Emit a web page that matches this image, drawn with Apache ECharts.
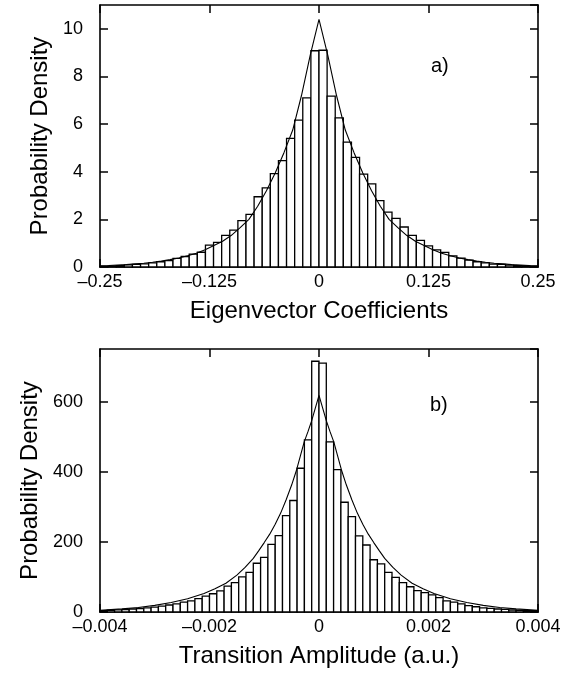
<!DOCTYPE html>
<html><head><meta charset="utf-8">
<script src="https://cdn.jsdelivr.net/npm/echarts@6/dist/echarts.min.js"></script>
<style>html,body{margin:0;padding:0;background:#fff}#c{width:574px;height:673px}</style>
</head><body><div id="c"></div>
<script>
// ---- Panel a) data ----
const topRange = [-0.25, 0.25];
const topXTicks = [-0.25, -0.125, 0, 0.125, 0.25];
const topBars = [0.03, 0.04, 0.06, 0.09, 0.11, 0.13, 0.17, 0.22, 0.27, 0.36, 0.44, 0.54, 0.62, 0.92, 1.03, 1.33, 1.55, 1.95, 2.21, 2.95, 3.32, 3.92, 4.47, 5.4, 6.17, 7.1, 9.08,
                 9.1, 7.17, 6.26, 5.24, 4.6, 3.9, 3.49, 2.79, 2.3, 2.04, 1.68, 1.33, 1.12, 0.89, 0.72, 0.61, 0.47, 0.37, 0.29, 0.22, 0.17, 0.12, 0.11, 0.08, 0.06, 0.05, 0.03];
const topCurveX = [-0.25, -0.24, -0.23, -0.22, -0.21, -0.2, -0.19, -0.18, -0.17, -0.16, -0.15, -0.14, -0.13, -0.12, -0.11, -0.1, -0.09, -0.08, -0.07, -0.06, -0.05, -0.04, -0.03, -0.02, -0.01, 0,
                   0.01, 0.02, 0.03, 0.04, 0.05, 0.06, 0.07, 0.08, 0.09, 0.1, 0.11, 0.12, 0.13, 0.14, 0.15, 0.16, 0.17, 0.18, 0.19, 0.2, 0.21, 0.22, 0.23, 0.24, 0.25];
const topCurveY = [0.05, 0.06, 0.08, 0.1, 0.13, 0.16, 0.2, 0.25, 0.31, 0.38, 0.47, 0.58, 0.72, 0.9, 1.08, 1.33, 1.65, 2.0, 2.55, 3.2, 3.95, 4.8, 5.75, 7.2, 8.9, 10.4,
                   8.9, 7.2, 5.75, 4.8, 3.95, 3.2, 2.55, 2.0, 1.65, 1.33, 1.08, 0.9, 0.72, 0.58, 0.47, 0.38, 0.31, 0.25, 0.2, 0.16, 0.13, 0.1, 0.08, 0.06, 0.05];

// ---- Panel b) data ----
const botRange = [-0.004, 0.004];
const botXTicks = [-0.004, -0.002, 0, 0.002, 0.004];
const botBars = [4, 5, 6, 7, 8.5, 10, 12, 14, 17, 20, 23, 28, 32, 38, 45, 52, 60, 74, 84, 100, 113, 139, 156, 193, 218, 275, 318, 410, 491, 715,
                 710, 485, 406, 313, 272, 217, 191, 149, 137, 113, 99, 84, 72, 61, 55, 49, 41, 32, 28, 23, 18, 15, 12, 10.5, 8.6, 7.6, 5.7, 5, 4, 4];
const botCurveX = [-0.004, -0.0036, -0.0033, -0.003, -0.0027, -0.0024, -0.0021, -0.0019, -0.0017, -0.0015, -0.00135, -0.0012, -0.0011, -0.001, -0.0009, -0.0008, -0.0007, -0.0006, -0.0005, -0.00041, -0.00034, -0.00027, -0.0002, -0.000135, -0.00007, 0,
                   0.00007, 0.000135, 0.0002, 0.00027, 0.00034, 0.00041, 0.0005, 0.0006, 0.0007, 0.0008, 0.0009, 0.001, 0.0011, 0.0012, 0.00135, 0.0015, 0.0017, 0.0019, 0.0021, 0.0024, 0.0027, 0.003, 0.0033, 0.0036, 0.004];
const botCurveY = [5, 9, 13, 19, 27, 38, 53, 66, 82, 105, 127, 153, 175, 198, 222, 250, 282, 320, 362, 405, 445, 485, 515, 545, 580, 618,
                   580, 545, 515, 485, 445, 405, 362, 320, 282, 250, 222, 198, 175, 153, 127, 105, 82, 66, 53, 38, 27, 19, 13, 9, 5];

const FONT = 'Liberation Sans';
const chart = echarts.init(document.getElementById('c'), null, {renderer: 'canvas'});

function fmt(v) {
  const r = parseFloat(v.toFixed(6));
  if (r === 0) return '0';
  return (r < 0 ? '\u2013' : '') + Math.abs(r).toString();
}
function barSeries(xi, yi, range, values) {
  const n = values.length, w = (range[1] - range[0]) / n;
  const data = values.map((v, i) => [range[0] + i * w, range[0] + (i + 1) * w, v]);
  return {
    type: 'custom', xAxisIndex: xi, yAxisIndex: yi, data: data, encode: {x: [0, 1], y: 2}, z: 2,
    renderItem: function (params, api) {
      const p0 = api.coord([api.value(0), api.value(2)]);
      const p1 = api.coord([api.value(1), 0]);
      return {type: 'rect', shape: {x: p0[0], y: p0[1], width: p1[0] - p0[0], height: p1[1] - p0[1]},
              style: {fill: '#fff', stroke: '#000', lineWidth: 1.3}};
    }
  };
}
function curveSeries(xi, yi, xs, ys) {
  return {type: 'line', xAxisIndex: xi, yAxisIndex: yi, data: xs.map((x, i) => [x, ys[i]]),
          showSymbol: false, symbol: 'none', smooth: false, z: 3, lineStyle: {color: '#000', width: 1.1}, silent: true};
}
const lineS = {show: true, onZero: false, lineStyle: {color: '#000', width: 1.6}};
const tickS = {show: true, inside: true, length: 8, lineStyle: {color: '#000', width: 1.5}};
function xAxes(gi, range, ticks, name) {
  const iv = ticks[1] - ticks[0];
  return [
    {type: 'value', gridIndex: gi, min: range[0], max: range[1], interval: iv, position: 'bottom',
     axisLine: lineS, axisTick: tickS, splitLine: {show: false},
     axisLabel: {formatter: fmt, color: '#000', fontFamily: FONT, fontSize: 18, margin: 6},
     name: name, nameLocation: 'middle', nameGap: 32,
     nameTextStyle: {color: '#000', fontFamily: FONT, fontSize: 24, verticalAlign: 'top'}},
    {type: 'value', gridIndex: gi, min: range[0], max: range[1], interval: iv, position: 'top',
     axisLine: lineS, axisTick: tickS, splitLine: {show: false}, axisLabel: {show: false}}
  ];
}
function yAxes(gi, max, iv) {
  return [
    {type: 'value', gridIndex: gi, min: 0, max: max, interval: iv, position: 'left',
     axisLine: lineS, axisTick: tickS, splitLine: {show: false},
     axisLabel: {color: '#000', fontFamily: FONT, fontSize: 18, margin: 17, showMaxLabel: false},
     name: 'Probability Density', nameLocation: 'middle', nameGap: 46,
     nameTextStyle: {color: '#000', fontFamily: FONT, fontSize: 24}},
    {type: 'value', gridIndex: gi, min: 0, max: max, interval: iv, position: 'right',
     axisLine: lineS, axisTick: tickS, splitLine: {show: false}, axisLabel: {show: false}}
  ];
}

chart.setOption({
  animation: false,
  backgroundColor: '#fff',
  grid: [
    {left: 100, top: 5, width: 438, height: 262},
    {left: 100, top: 349, width: 438, height: 263}
  ],
  xAxis: [].concat(xAxes(0, topRange, topXTicks, 'Eigenvector Coefficients'),
                   xAxes(1, botRange, botXTicks, 'Transition Amplitude (a.u.)')),
  yAxis: [].concat(yAxes(0, 11, 2), yAxes(1, 750, 200)),
  series: [
    barSeries(0, 0, topRange, topBars),
    curveSeries(0, 0, topCurveX, topCurveY),
    barSeries(2, 2, botRange, botBars),
    curveSeries(2, 2, botCurveX, botCurveY)
  ],
  graphic: [
    {type: 'text', left: 431, top: 56, style: {text: 'a)', font: '20px "Liberation Sans"', fill: '#000'}},
    {type: 'text', left: 430, top: 395, style: {text: 'b)', font: '20px "Liberation Sans"', fill: '#000'}}
  ]
});
</script></body></html>
